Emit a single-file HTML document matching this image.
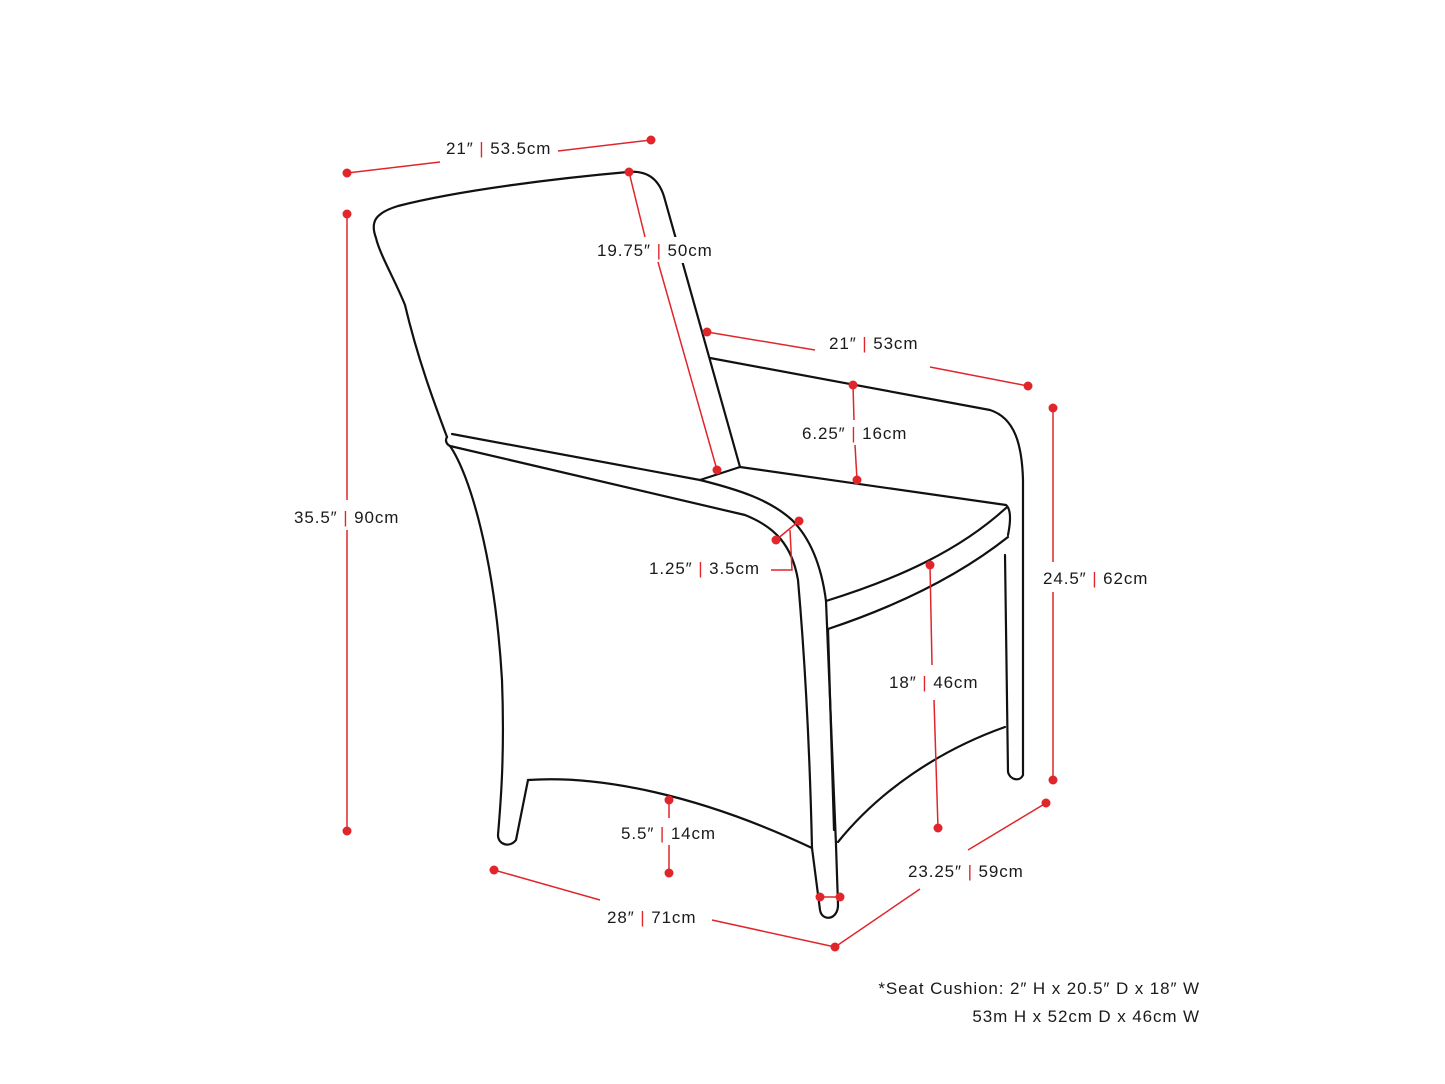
<!DOCTYPE html>
<html><head><style>
html,body{margin:0;padding:0;background:#fff;}
svg{display:block;}
text{font-family:"Liberation Sans",sans-serif;font-size:17px;fill:#1a1a1a;letter-spacing:0.9px;}
</style></head><body>
<svg width="1445" height="1084" viewBox="0 0 1445 1084" xmlns="http://www.w3.org/2000/svg">
<g fill="none" stroke="#111" stroke-width="2.2" stroke-linecap="round" stroke-linejoin="round">
<!-- back -->
<path d="M447 437 C435 405 418 360 405 305 C395 280 380 255 376 238 C370 222 375 213 398 206 C460 190 560 178 628 172 C648 170 660 180 665 200 L740 467"/>
<path d="M447 437 C445 440 446 444 450 446 C470 475 495 560 502 680 C505 760 500 810 498 835 C498 845 510 848 516 840 L528 780"/>
<path d="M452 434 L700 480 L740 467 L1006 505 C1012 510 1010 525 1008 535"/>
<path d="M700 480 C740 490 770 500 792 520 C812 540 822 570 826 601 L836 845 L838 905 C838 920 822 922 820 910 L812 848"/>
<path d="M450 446 L745 515 C775 527 792 545 798 580 C805 660 810 760 812 848"/>
<path d="M826 601 C900 578 960 550 1006 508"/>
<path d="M828 629 C900 605 960 575 1008 537"/>
<path d="M828 629 L834 830"/>
<path d="M528 780 C600 775 700 795 812 848"/>
<path d="M838 842 C880 790 940 750 1005 727"/>
<path d="M710 358 L990 410 C1015 418 1022 445 1023 480 L1023 775 C1020 782 1010 780 1008 772 L1005 555"/>
</g>
<rect x="592" y="237" width="126" height="26" fill="#fff"/>
<g stroke="#e0262a" stroke-width="1.5" fill="none">
<path d="M347 173 L440 162 M558 151 L651 140"/>
<path d="M347 214 L347 500 M347 530 L347 831"/>
<path d="M629 172 L645 237 M658 262 L717 470"/>
<path d="M707 332 L815 350 M930 367 L1028 386"/>
<path d="M853 385 L854 420 M855 445 L857 480"/>
<path d="M1053 408 L1053 562 M1053 592 L1053 780"/>
<path d="M776 540 L799 521 M790 530 L792 570 L771 570"/>
<path d="M930 565 L932 665 M934 700 L938 828"/>
<path d="M669 800 L669 818 M669 845 L669 873"/>
<path d="M494 870 L600 900 M712 920 L835 947 M835 947 L920 889 M968 850 L1046 803"/>
<path d="M820 897 L840 897"/>
</g>
<g fill="#e0262a">
<circle cx="347" cy="173" r="4.5"/><circle cx="651" cy="140" r="4.5"/>
<circle cx="347" cy="214" r="4.5"/><circle cx="347" cy="831" r="4.5"/>
<circle cx="629" cy="172" r="4.5"/><circle cx="717" cy="470" r="4.5"/>
<circle cx="707" cy="332" r="4.5"/><circle cx="1028" cy="386" r="4.5"/>
<circle cx="853" cy="385" r="4.5"/><circle cx="857" cy="480" r="4.5"/>
<circle cx="1053" cy="408" r="4.5"/><circle cx="1053" cy="780" r="4.5"/>
<circle cx="776" cy="540" r="4.5"/><circle cx="799" cy="521" r="4.5"/>
<circle cx="930" cy="565" r="4.5"/><circle cx="938" cy="828" r="4.5"/>
<circle cx="669" cy="800" r="4.5"/><circle cx="669" cy="873" r="4.5"/>
<circle cx="494" cy="870" r="4.5"/><circle cx="835" cy="947" r="4.5"/>
<circle cx="1046" cy="803" r="4.5"/>
<circle cx="820" cy="897" r="4.5"/><circle cx="840" cy="897" r="4.5"/>
</g>
<g>
<text x="446" y="154">21″ <tspan fill="#e0262a">|</tspan> 53.5cm</text>
<text x="597" y="256">19.75″ <tspan fill="#e0262a">|</tspan> 50cm</text>
<text x="829" y="349">21″ <tspan fill="#e0262a">|</tspan> 53cm</text>
<text x="802" y="439">6.25″ <tspan fill="#e0262a">|</tspan> 16cm</text>
<text x="294" y="523">35.5″ <tspan fill="#e0262a">|</tspan> 90cm</text>
<text x="649" y="574">1.25″ <tspan fill="#e0262a">|</tspan> 3.5cm</text>
<text x="1043" y="584">24.5″ <tspan fill="#e0262a">|</tspan> 62cm</text>
<text x="889" y="688">18″ <tspan fill="#e0262a">|</tspan> 46cm</text>
<text x="621" y="839">5.5″ <tspan fill="#e0262a">|</tspan> 14cm</text>
<text x="908" y="877">23.25″ <tspan fill="#e0262a">|</tspan> 59cm</text>
<text x="607" y="923">28″ <tspan fill="#e0262a">|</tspan> 71cm</text>
<text x="1200" y="994" text-anchor="end">*Seat Cushion: 2″ H x 20.5″ D x 18″ W</text>
<text x="1200" y="1022" text-anchor="end">53m H x 52cm D x 46cm W</text>
</g>
</svg>
</body></html>
